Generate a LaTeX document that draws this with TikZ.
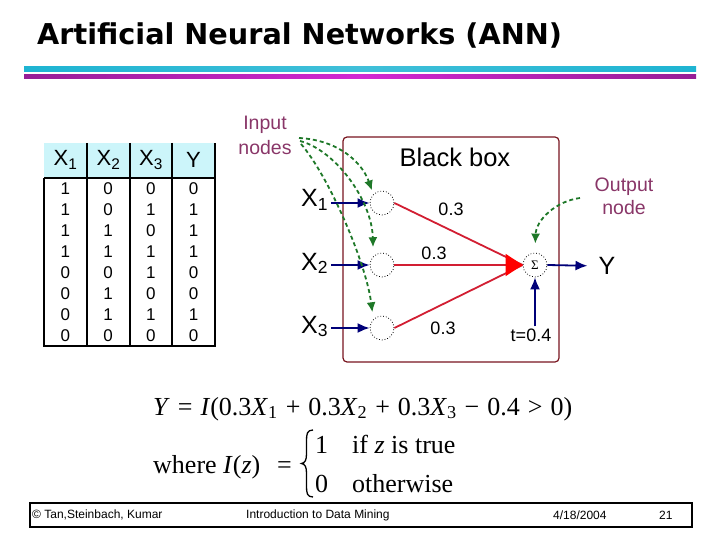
\documentclass[tikz,border=0pt]{standalone}
\usepackage{fontspec}
\setmainfont{Liberation Sans}
\newfontfamily\titlefont{DejaVu Sans}
\newfontfamily\tms{Liberation Serif}
\usetikzlibrary{arrows.meta}
\definecolor{plum}{RGB}{137,54,104}
\definecolor{hdrcyan}{RGB}{204,245,250}
\definecolor{boxred}{RGB}{120,20,30}
\definecolor{navy}{RGB}{0,0,120}
\definecolor{redln}{RGB}{210,30,50}
\definecolor{grn}{RGB}{30,120,40}
\definecolor{cyanln}{RGB}{30,180,210}
\definecolor{purpA}{RGB}{150,30,150}
\definecolor{purpB}{RGB}{210,40,210}
\tikzset{
  innode/.style={circle,draw,dotted,thick,minimum size=24pt,inner sep=0pt},
  bluearr/.style={draw=navy,line width=1.8pt,-{Latex[length=12pt,width=10pt]}},
  redline/.style={draw=redln,line width=1.8pt},
  greenarr/.style={draw=grn,line width=1.8pt,dash pattern=on 4pt off 3pt,-{Latex[length=10pt,width=9pt]}},
  tbl/.style={line width=1.4pt},
  digit/.style={inner sep=0pt,font=\fontsize{17}{17}\selectfont},
  hdr/.style={inner sep=0pt,font=\fontsize{22}{22}\selectfont},
  lbl/.style={inner sep=0pt,font=\fontsize{18}{18}\selectfont},
  bigx/.style={inner sep=1pt,anchor=base west,font=\fontsize{25}{25}\selectfont},
  note/.style={inner sep=0pt,align=center,text=plum},
  eq/.style={inner sep=0pt,anchor=base west,font=\tms\fontsize{26}{26}\selectfont},
  foot/.style={inner sep=0pt,anchor=west,font=\fontsize{12}{12}\selectfont}
}
\begin{document}
\begin{tikzpicture}[x=1pt,y=-1pt]
\useasboundingbox (0,0) rectangle (720,540);
% title
\node[anchor=base west,inner sep=0pt,font=\titlefont\bfseries\fontsize{28.7}{30}\selectfont] (title) at (37,45) {Artificial Neural Networks (ANN)};
\shade[left color=cyanln,right color=cyanln,middle color=cyanln!85!white] (24,67) rectangle (696,72);
\shade[left color=purpA,right color=purpA,middle color=purpB] (24,75) rectangle (696,79);
% table
\fill[hdrcyan] (44,143) rectangle (215,178);
\draw[tbl] (44,178) -- (44,346) -- (215,346) -- (215,143);
\foreach \xx in {87,130,172} { \draw[tbl] (\xx,143) -- (\xx,346); }
\draw[line width=1.8pt] (44,178) -- (215,178);
\node[hdr] (h1) at (65.5,160) {X\textsubscript{1}};
\node[hdr] (h2) at (108.5,160) {X\textsubscript{2}};
\node[hdr] (h3) at (151,160) {X\textsubscript{3}};
\node[hdr] (h4) at (193.5,160) {Y};
\foreach \r [count=\i] in {{1,0,0,0},{1,0,1,1},{1,1,0,1},{1,1,1,1},{0,0,1,0},{0,1,0,0},{0,1,1,1},{0,0,0,0}} {
  \foreach \v [count=\j] in \r {
    \node[digit] (c\i\j) at ({44+42.75*(\j-1)+21.4},{178+21*(\i-0.5)}) {\v};
  }
}
% black box
\draw[boxred,line width=1.2pt,rounded corners=4pt] (343,137) rectangle (559,362);
\node[inner sep=0pt,font=\fontsize{25.5}{26}\selectfont] (bb) at (455,157) {Black box};
% neurons
\node[innode] (n1) at (382,203) {};
\node[innode] (n2) at (382,265) {};
\node[innode] (n3) at (382,328) {};
\node[innode] (s) at (535,265) {\tms\fontsize{13}{13}\selectfont Σ};
% input labels
\node[bigx] (x1) at (300,207) {X\textsubscript{1}};
\node[bigx] (x2) at (300,270) {X\textsubscript{2}};
\node[bigx] (x3) at (300,333) {X\textsubscript{3}};
\draw[bluearr] (331,203) -- (n1.west);
\draw[bluearr] (331,265) -- (n2.west);
\draw[bluearr] (331,328) -- (n3.west);
% red weighted links
\draw[redline] (n1.east) -- (s.west);
\draw[redline] (n3.east) -- (s.west);
\draw[redline,-{Triangle[length=17pt,width=22pt,fill=red,color=red]}] (n2.east) -- (s.west);
\node[lbl] (w1) at (451,209) {0.3};
\node[lbl] (w2) at (434,253) {0.3};
\node[lbl] (w3) at (443,328) {0.3};
% output
\node[inner sep=0pt,font=\fontsize{25}{25}\selectfont] (yout) at (607,266) {Y};
\draw[bluearr,shorten >=11pt] (s.east) -- (yout.west);
\node[lbl] (t) at (531,335) {t=0.4};
\draw[bluearr,shorten <=2pt] (t.north -| s) -- (s.south);
% annotations
\node[note,font=\fontsize{19.5}{25}\selectfont] (inl) at (265,135) {Input\\nodes};
\node[note,font=\fontsize{19.5}{23}\selectfont] (outl) at (624,196) {Output\\node};
\coordinate (ia) at (299,138);
\coordinate (ib) at (300,141);
\coordinate (ic) at (301,144);
\draw[greenarr,shorten >=4pt] (ia) .. controls (338,140) and (362,162) .. (n1.north west);
\draw[greenarr,shorten >=9pt] (ib) .. controls (335,150) and (372,200) .. (n2.north west);
\draw[greenarr,shorten >=7pt] (ic) .. controls (328,175) and (366,262) .. (n3.north west);
\coordinate (oa) at (580,198);
\draw[greenarr,shorten >=9pt] (oa) .. controls (556,201) and (536,220) .. (s.north);
% formula
\node[eq] (eq1) at (153,415) {\makebox[419pt][s]{\textit{Y} = \textit{I}(0.3\textit{X}\textsubscript{1} + 0.3\textit{X}\textsubscript{2} + 0.3\textit{X}\textsubscript{3} − 0.4 > 0)}};
\node[eq] (eq2) at (153,473) {where};
\node[eq] (iz) at (223,473) {\textit{I}(\textit{z})};
\node[eq] (eqs) at (277,473) {=};
\draw[line width=1.3pt] (313,430) .. controls (307,430) and (306.5,434) .. (306.5,441) -- (306.5,454)
  .. controls (306.5,460) and (305,463) .. (301.5,463.5)
  .. controls (305,464) and (306.5,467) .. (306.5,473) -- (306.5,486)
  .. controls (306.5,493) and (307,497) .. (313,497);
\node[eq] (one) at (315,453) {1};
\node[eq] (cond) at (352,453) {if \textit{z} is true};
\node[eq] (zero) at (315,492) {0};
\node[eq] (oth) at (352,492) {otherwise};
% footer
\draw[line width=2.5pt] (30,503) rectangle (692,527);
\node[foot] (f1) at (32,515) {© Tan,Steinbach, Kumar};
\node[foot] (f2) at (246,515) {Introduction to Data Mining};
\node[foot] (f3) at (553,515) {4/18/2004};
\node[foot] (f4) at (659,515) {21};
\end{tikzpicture}
\end{document}
